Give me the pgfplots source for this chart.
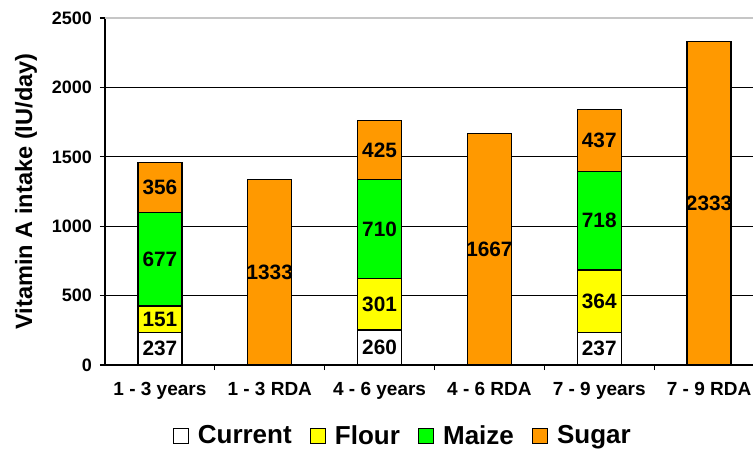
\documentclass[border=0pt]{standalone}
\usepackage{fontspec}
\setmainfont{Liberation Sans}
\usepackage{pgfplots}
\usepackage{pgfplotstable}
\pgfplotsset{compat=1.18}
\usetikzlibrary{calc}

\definecolor{flour}{RGB}{255,255,0}
\definecolor{maize}{RGB}{0,255,0}
\definecolor{sugar}{RGB}{255,153,0}

% bar heights as drawn, labels as printed
\pgfplotstableread{
x cur flo mai sug lcur lflo lmai lsug
0 233 192 676 358 237 151 677 356
1 0 0 0 1334 {} {} {} 1333
2 252 370 712 430 260 301 710 425
3 0 0 0 1666 {} {} {} 1667
4 233 452 709 445 237 364 718 437
5 0 0 0 2329 {} {} {} 2333
}\vita

\begin{document}
\begin{tikzpicture}
\begin{axis}[
    scale only axis,
    width=324pt, height=173.5pt,
    ybar stacked,
    bar width=22pt,
    xmin=-0.5, xmax=5.4,
    ymin=0, ymax=2500,
    axis x line*=bottom,
    axis y line*=left,
    axis line style={line width=0.6pt},
    tick align=outside,
    major tick length=2.5pt,
    tick style={black, line width=0.6pt},
    xtick={0.5,1.5,2.5,3.5,4.5},
    xticklabels={},
    extra x ticks={0,1,2,3,4,5},
    extra x tick labels={1 - 3 years,1 - 3 RDA,4 - 6 years,4 - 6 RDA,7 - 9 years,7 - 9 RDA},
    extra x tick style={major tick length=0pt},
    ytick={0,500,1000,1500,2000},
    extra y ticks={2500},
    extra y tick style={major grid style={gray!45, line width=0.9pt}},
    ymajorgrids,
    major grid style={black, line width=0.5pt},
    /pgf/number format/assume math mode=true,
    /pgf/number format/1000 sep={},
    yticklabel style={font=\fontsize{9}{10}\selectfont\bfseries, inner sep=0pt, anchor=east},
    yticklabel shift=3.8pt,
    xticklabel style={font=\fontsize{9.5}{11}\selectfont\bfseries, inner sep=0pt, anchor=north},
    xticklabel shift=8.5pt,
    ylabel={Vitamin A intake (IU/day)},
    ylabel style={font=\fontsize{11.8}{14}\selectfont\bfseries, at={(axis description cs:-0.122,0.5)}, anchor=center},
    every axis plot/.append style={draw=black, line width=0.6pt},
    nodes near coords,
    point meta=explicit symbolic,
    % stacked segments: labels sit in the middle of each segment
    every node near coord/.append style={font=\fontsize{10.4}{12}\selectfont\bfseries, anchor=center, inner sep=0pt},
    legend columns=4,
    legend style={draw=none, at={(0.461,-0.205)}, anchor=center,
        font=\fontsize{13}{15}\selectfont\bfseries,
        /tikz/every odd column/.append style={column sep=2.5pt},
        /tikz/every even column/.append style={column sep=7pt},
        inner sep=0pt},
    legend cell align=left,
    legend image code/.code={\draw[#1, line width=0.6pt] (0pt,-3.75pt) rectangle (7.5pt,3.75pt);},
]
\addplot[fill=white] table[x=x, y=cur, meta=lcur] {\vita};
\addplot[fill=flour] table[x=x, y=flo, meta=lflo] {\vita};
\addplot[fill=maize] table[x=x, y=mai, meta=lmai] {\vita};
\addplot[fill=sugar] table[x=x, y=sug, meta=lsug] {\vita};
\legend{Current,Flour,Maize,Sugar}
\end{axis}
\pgfresetboundingbox
\path[use as bounding box] ($(current axis.south west)+(-52.5pt,-43.5pt)$) rectangle ($(current axis.north east)+(0pt,9pt)$);
\end{tikzpicture}
\end{document}
